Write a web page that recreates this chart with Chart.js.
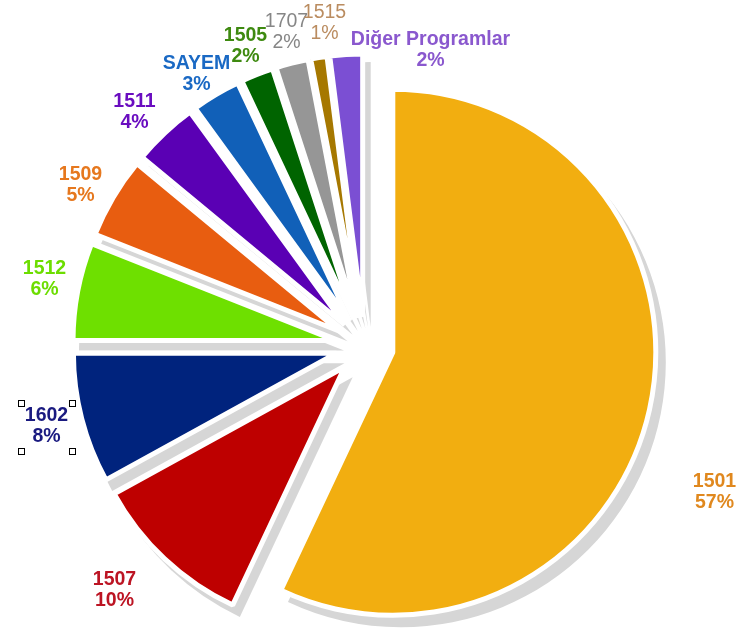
<!DOCTYPE html>
<html><head><meta charset="utf-8">
<script src="https://cdn.jsdelivr.net/npm/chart.js@4.4.1/dist/chart.umd.min.js"></script>
<style>html,body{margin:0;padding:0;background:#fff;} canvas{display:block;}</style>
</head><body>
<canvas id="c" width="737" height="629"></canvas>
<script>
// ---- data ----
const categories = ['1501','1507','1602','1512','1509','1511','SAYEM','1505','1707','1515','Diğer Programlar'];
const shares = [57, 10, 8, 6, 5, 4, 3, 2, 2, 1, 2];

// ---- styles ----
const sliceColors = ['#F2AE10','#BE0000','#00237D','#6EE000','#E85D10','#5A00B4','#1160B8','#006400','#969696','#A67800','#7B4FD3'];
const labelColors = ['#E0881E','#BC1423','#1A1A80','#6CDD00','#E6781E','#6A0DC0','#1A69C4','#3E8A10','#868686','#BA8C60','#8A58CE'];
const labelWeights = ['bold','bold','bold','bold','bold','bold','bold','bold','normal','normal','bold'];
// label block centre, relative to the pie centre (layout)
const labelOffsets = [[350,146],[-250,244],[-318,80],[-320,-67],[-284,-161],[-230,-234],[-168,-272],[-119,-300],[-78,-314],[-40,-323],[66,-296]];

const EXPLODE = 29;
const RADIUS = 263;
const SHADOW = {dx: 8, dy: 10, grow: 2, color: '#d6d6d6'};
const FONT = '"Liberation Sans", Arial, sans-serif';

const explodePlugin = {
  id: 'explode',
  beforeDatasetDraw(chart, args) {
    const ctx = chart.ctx;
    const arcs = args.meta.data;
    const shift = a => { const m = (a.startAngle + a.endAngle) / 2; return [Math.cos(m) * EXPLODE, Math.sin(m) * EXPLODE]; };
    ctx.save();
    ctx.fillStyle = SHADOW.color;
    arcs.forEach(a => {
      const [sx, sy] = shift(a);
      const x = a.x + sx + SHADOW.dx, y = a.y + sy + SHADOW.dy;
      ctx.beginPath();
      ctx.moveTo(x, y);
      ctx.arc(x, y, a.outerRadius + SHADOW.grow, a.startAngle, a.endAngle);
      ctx.closePath();
      ctx.fill();
    });
    ctx.restore();
    arcs.forEach(a => {
      const [sx, sy] = shift(a);
      ctx.save(); ctx.translate(sx, sy); a.draw(ctx); ctx.restore();
    });
    return false;
  },
  afterDatasetsDraw(chart) {
    const ctx = chart.ctx;
    const a0 = chart.getDatasetMeta(0).data[0];
    const cx = a0.x, cy = a0.y;
    ctx.save();
    ctx.textAlign = 'center';
    ctx.textBaseline = 'middle';
    categories.forEach((cat, i) => {
      const [ox, oy] = labelOffsets[i];
      ctx.font = labelWeights[i] + ' 19.5px ' + FONT;
      ctx.fillStyle = labelColors[i];
      ctx.fillText(cat, cx + ox, cy + oy - 10.25);
      ctx.fillText(shares[i] + '%', cx + ox, cy + oy + 10.25);
    });
    // selection handles around the 1602 label
    const [hx, hy] = labelOffsets[2];
    ctx.fillStyle = '#fff'; ctx.strokeStyle = '#000'; ctx.lineWidth = 1;
    [[-26,-23.5],[25,-23.5],[-26,24.5],[25,24.5]].forEach(([dx, dy]) => {
      const x = Math.round(cx + hx + dx - 3) + 0.5, y = Math.round(cy + hy + dy - 3) + 0.5;
      ctx.fillRect(x, y, 6, 6); ctx.strokeRect(x, y, 6, 6);
    });
    ctx.restore();
  }
};

new Chart(document.getElementById('c'), {
  type: 'pie',
  data: {
    labels: categories,
    datasets: [{
      data: shares,
      backgroundColor: sliceColors,
      borderColor: '#ffffff',
      borderWidth: 5
    }]
  },
  options: {
    responsive: false,
    animation: false,
    radius: RADIUS,
    layout: {padding: {left: 0, right: 8, top: 63, bottom: 0}},
    plugins: {legend: {display: false}, tooltip: {enabled: false}}
  },
  plugins: [explodePlugin]
});
</script>
</body></html>
